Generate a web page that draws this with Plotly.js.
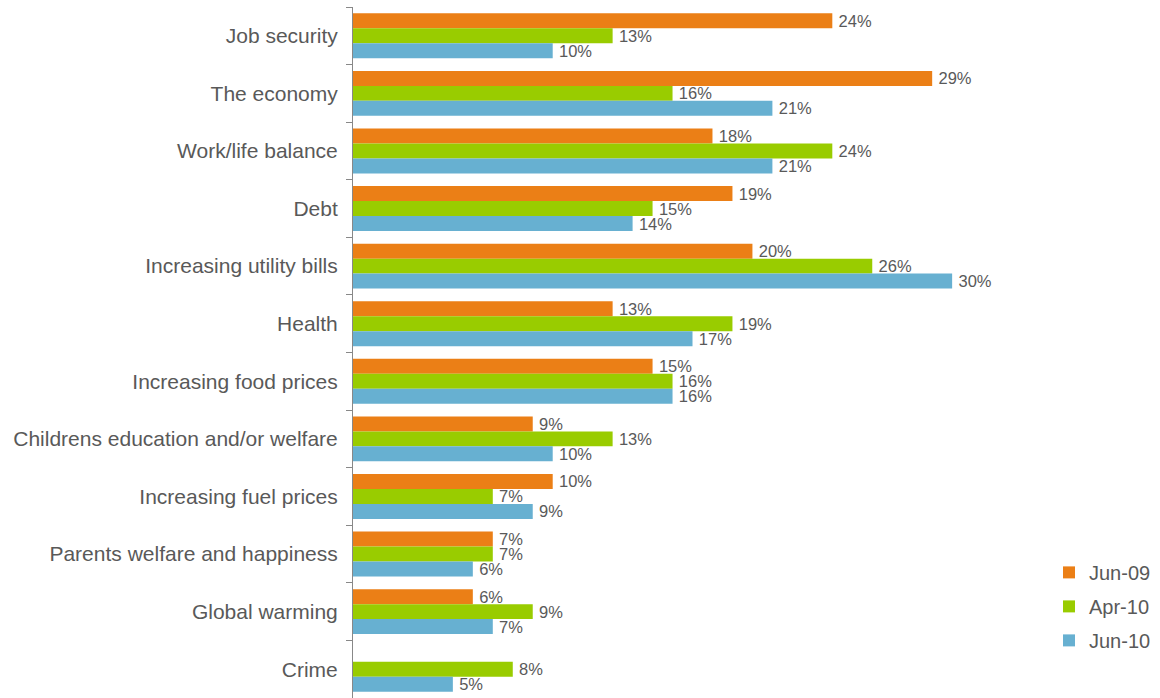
<!DOCTYPE html>
<html><head><meta charset="utf-8">
<script src="https://cdn.plot.ly/plotly-3.0.1.min.js"></script>
<style>html,body{margin:0;padding:0;background:#fff}#chart{width:1160px;height:698px}</style>
</head><body><div id="chart"></div>
<script>
const categories = ["Job security","The economy","Work/life balance","Debt","Increasing utility bills","Health","Increasing food prices","Childrens education and/or welfare","Increasing fuel prices","Parents welfare and happiness","Global warming","Crime"];
const jun09 = [24,29,18,19,20,13,15,9,10,7,6,null];
const apr10 = [13,16,24,15,26,19,16,13,7,7,9,8];
const jun10 = [10,21,21,14,30,17,16,10,9,6,7,5];
const seriesNames = ["Jun-09","Apr-10","Jun-10"];
const colors = ["#EB7F16","#99CC00","#67B0D1"];
const grey = "#595959";
const series = [jun09, apr10, jun10];
const traces = series.map((vals,i)=>({
  type:"bar", orientation:"h", name:seriesNames[i], y:categories, x:vals,
  legendgroup:"g"+i,
  marker:{color:colors[i]},
  text: vals.map(v=> v==null ? "" : "\u2009"+v+"%"), textposition:"outside", constraintext:"none",
  textfont:{family:"Liberation Sans, Arial, sans-serif", size:16.5, color:grey},
  cliponaxis:false, hoverinfo:"skip"
}));
const layout = {
  width:1160, height:698,
  margin:{l:353, r:110.5, t:7, b:0},
  barmode:"group", bargap:0.22, bargroupgap:0,
  paper_bgcolor:"#fff", plot_bgcolor:"#fff",
  font:{family:"Liberation Sans, Arial, sans-serif", color:grey},
  xaxis:{range:[0,34.85], visible:false, fixedrange:true},
  yaxis:{autorange:"reversed", type:"category", showline:true, linecolor:"#888", linewidth:1,
    ticks:"outside", tickson:"boundaries", ticklen:6, tickcolor:"#888",
    tickfont:{size:21, color:grey}, showgrid:false, zeroline:false, ticklabelstandoff:10},
  legend:{x:1.0, xanchor:"left", y:0.21, yanchor:"top", traceorder:"grouped",
    font:{size:20, color:grey}, itemwidth:30, tracegroupgap:5},
  showlegend:true
};
Plotly.newPlot("chart", traces, layout, {staticPlot:true, displayModeBar:false});
</script></body></html>
